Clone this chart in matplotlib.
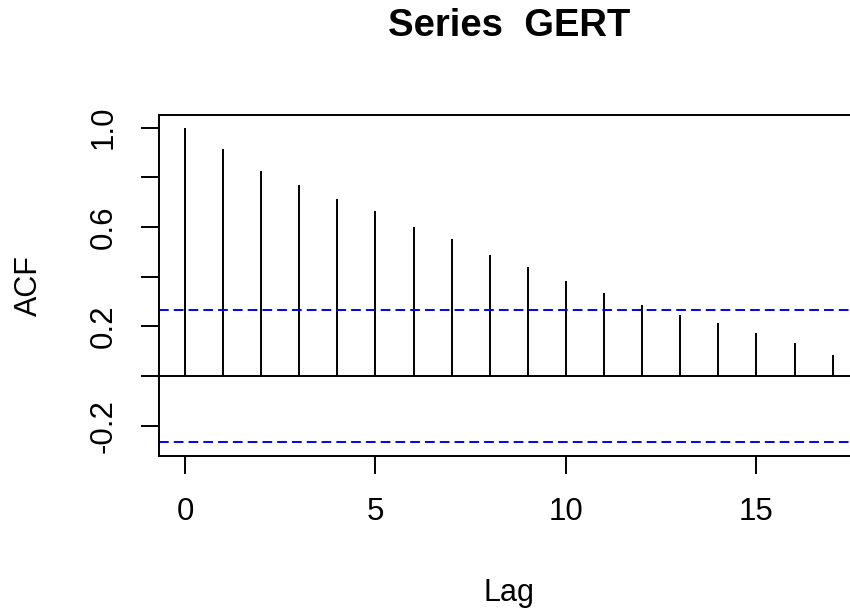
import numpy as np
import matplotlib.pyplot as plt

plt.rcParams['font.family'] = ['Liberation Sans', 'DejaVu Sans']

# acf values
lags = list(range(18))
acf_vals = [1.0, 0.915, 0.827, 0.770, 0.714, 0.665, 0.601, 0.552, 0.488,
            0.440, 0.383, 0.335, 0.286, 0.245, 0.214, 0.173, 0.133, 0.085]
conf = 0.266
yticks = [-0.2, 0.0, 0.2, 0.4, 0.6, 0.8, 1.0]
ytick_labels = ['-0.2', '', '0.2', '', '0.6', '', '1.0']
xticks = [0, 5, 10, 15]

fig = plt.figure(figsize=(8.5, 6.11), dpi=100)
ax = fig.add_axes([0.1871, 0.2545, 1.0101 - 0.1871, 0.8118 - 0.2545])

ax.vlines(lags, 0, acf_vals, color='black', lw=1.4)
ax.axhline(0, color='black', lw=1.4)
ax.axhline(conf, color='#0000FF', lw=1.4, linestyle=(0, (5, 2.6)))
ax.axhline(-conf, color='#0000FF', lw=1.4, linestyle=(0, (5, 2.6)))

ax.set_xlim(-0.68, 17.68)
ax.set_ylim(-0.3208, 1.0508)

ax.set_xticks(xticks)
ax.set_xticklabels([str(t) for t in xticks])
ax.set_yticks(yticks)
ax.set_yticklabels(ytick_labels, rotation=90, va='center')

ax.tick_params(axis='both', length=13, width=1.4, labelsize=22.5, colors='black')
ax.tick_params(axis='x', pad=17)
ax.tick_params(axis='y', pad=16)
for s in ax.spines.values():
    s.set_linewidth(1.4)

ax.set_xlabel('Lag', fontsize=22, va='center')
ax.xaxis.set_label_coords(0.5, -0.405)
ax.set_ylabel('ACF', fontsize=22, va='center')
ax.yaxis.set_label_coords(-0.186, 0.5)
fig.suptitle('Series  GERT', fontsize=27.5, fontweight='bold', x=0.5986, y=0.958, va='center')

fig.savefig('out.png', dpi=100)
